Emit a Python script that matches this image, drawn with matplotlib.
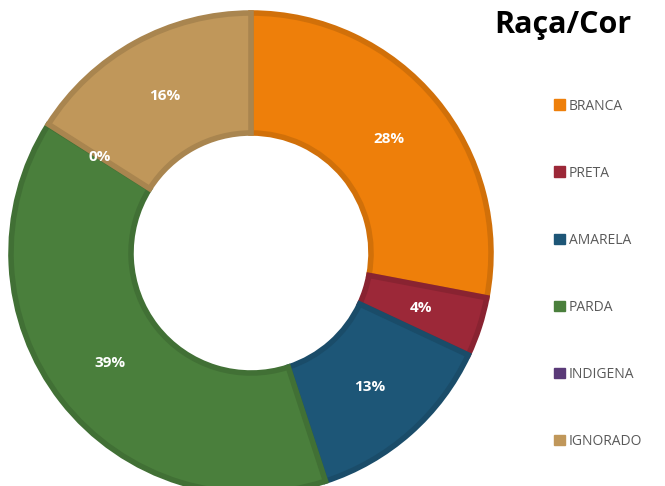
import matplotlib.pyplot as plt
import matplotlib.colors as mcolors
import numpy as np

categories = ['BRANCA', 'PRETA', 'AMARELA', 'PARDA', 'INDIGENA', 'IGNORADO']
values = [28, 4, 13, 39, 0.05, 16]
labels = ['28%', '4%', '13%', '39%', '0%', '16%']
colors = ['#EE7F0A', '#9C2838', '#1D5677', '#4A7F3C', '#5A3A78', '#C0975A']


def darker(c, f=0.88):
    r, g, b = mcolors.to_rgb(c)
    return (r * f, g * f, b * f)


fig = plt.figure(figsize=(6.65, 4.86), dpi=100)
cx, cy, R = 251, 253, 240
ax = fig.add_axes([(cx - R) / 665, (486 - cy - R) / 486, 2 * R / 665, 2 * R / 486])

wedges, _ = ax.pie(values, colors=colors, startangle=90, counterclock=False,
                   radius=1.0, wedgeprops=dict(width=0.5, linewidth=4))
for w, c in zip(wedges, colors):
    w.set_edgecolor(darker(c))
# the 0% slice shows only as a seam, not as its own colour
wedges[4].set_edgecolor(darker(colors[3]))
wedges[4].set_linewidth(1.5)

# data labels at mid-ring
total = sum(values)
start = 90.0
for v, lab in zip(values, labels):
    ang = np.deg2rad(start - v / total * 360 / 2)
    start -= v / total * 360
    r = 0.745
    ax.text(r * np.cos(ang), r * np.sin(ang), lab, ha='center', va='center',
            color='white', fontsize=11, fontweight='bold', family='Open Sans')

ax.set_xlim(-1, 1)
ax.set_ylim(-1, 1)
ax.set_aspect('equal')
ax.axis('off')

fig.text(563 / 665, 1 - 25 / 486, 'Raça/Cor', ha='center', va='center',
         fontsize=22, fontweight='bold', family='Open Sans')

handles = [plt.Rectangle((0, 0), 1, 1, color=c) for c in colors]
leg = fig.legend(handles, categories, loc='upper left',
                 bbox_to_anchor=(541 / 665, 1 - 86 / 486), frameon=False,
                 labelspacing=3.75, handlelength=0.8, handleheight=0.8,
                 handletextpad=0.3, prop=dict(family='Open Sans', size=10))
for t in leg.get_texts():
    t.set_color('#595959')

fig.savefig('out.png', dpi=100)
